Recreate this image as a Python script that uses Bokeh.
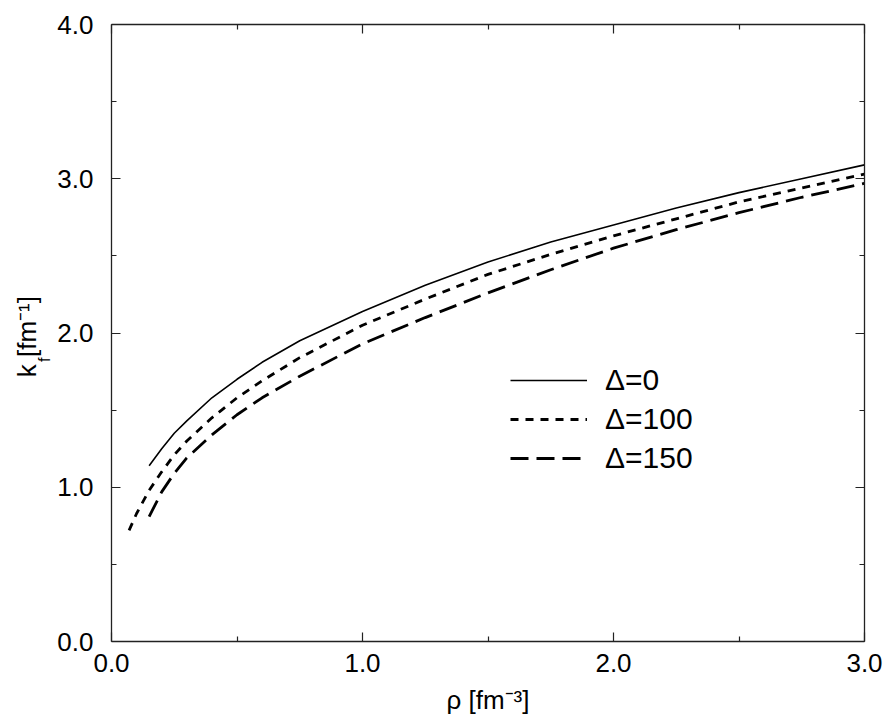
import math
from bokeh.plotting import figure
from bokeh.models import (Range1d, LinearAxis, FixedTicker, NumeralTickFormatter,
                          CustomJSTickFormatter, Legend, LegendItem, Label)
from bokeh.embed import file_html
from bokeh.resources import INLINE

# ---- data ----
rho_d0 = [0.15, 0.2, 0.25, 0.3, 0.4, 0.5, 0.6, 0.75, 1.0, 1.25, 1.5, 1.75, 2.0, 2.25, 2.5, 2.75, 3.0]
kf_d0 = [1.14, 1.25, 1.35, 1.43, 1.58, 1.70, 1.81, 1.95, 2.14, 2.31, 2.46, 2.59, 2.70, 2.81, 2.91, 3.00, 3.09]

rho_d100 = [0.07, 0.1, 0.15, 0.2, 0.25, 0.3, 0.4, 0.5, 0.6, 0.75, 1.0, 1.25, 1.5, 1.75, 2.0, 2.25, 2.5, 2.75, 3.0]
kf_d100 = [0.72, 0.83, 0.98, 1.10, 1.21, 1.30, 1.45, 1.58, 1.69, 1.84, 2.05, 2.22, 2.38, 2.51, 2.63, 2.74, 2.85, 2.94, 3.03]

rho_d150 = [0.15, 0.2, 0.25, 0.3, 0.4, 0.5, 0.6, 0.75, 1.0, 1.25, 1.5, 1.75, 2.0, 2.25, 2.5, 2.75, 3.0]
kf_d150 = [0.81, 0.97, 1.09, 1.19, 1.34, 1.47, 1.58, 1.72, 1.93, 2.10, 2.26, 2.41, 2.55, 2.67, 2.78, 2.88, 2.97]

series_labels = ["Δ=0", "Δ=100", "Δ=150"]
x_title = "ρ [fm⁻³]"
y_title = "k  [fm⁻¹]"
y_title_sub = "f"
x_major = [0, 1, 2, 3]
x_minor = [0.5, 1.5, 2.5]
y_major = [0, 1, 2, 3, 4]
y_minor = [0.5, 1.5, 2.5, 3.5]

FONT = "Liberation Sans"
AX = "#222222"

p = figure(width=887, height=718, output_backend="svg", toolbar_location=None,
           x_range=Range1d(0, 3), y_range=Range1d(0, 4),
           min_border_left=111, min_border_right=23, min_border_top=24, min_border_bottom=77,
           x_axis_type=None, y_axis_type=None)
p.outline_line_color = None
p.background_fill_color = "white"
p.border_fill_color = "white"


def style_axis(ax, major, minor, show_labels, standoff=0):
    ax.ticker = FixedTicker(ticks=major, minor_ticks=minor)
    ax.axis_line_color = AX
    ax.axis_line_width = 1.3
    ax.major_tick_line_color = AX
    ax.minor_tick_line_color = AX
    ax.major_tick_line_width = 1.2
    ax.minor_tick_line_width = 1.2
    ax.major_tick_in = 9
    ax.major_tick_out = 0
    ax.minor_tick_in = 5
    ax.minor_tick_out = 0
    if show_labels:
        ax.formatter = NumeralTickFormatter(format="0.0")
        ax.major_label_text_font = FONT
        ax.major_label_text_font_size = "26px"
        ax.major_label_text_color = "black"
        ax.major_label_standoff = standoff
        ax.axis_label_text_font = FONT
        ax.axis_label_text_font_size = "26px"
        ax.axis_label_text_font_style = "normal"
        ax.axis_label_text_color = "black"
    else:
        ax.formatter = CustomJSTickFormatter(code="return ''")
        ax.major_label_standoff = 0
        ax.major_label_text_font_size = "1px"


xb = LinearAxis(axis_label=x_title, axis_label_standoff=10)
style_axis(xb, x_major, x_minor, True, 12)
p.add_layout(xb, "below")
yl = LinearAxis(axis_label=y_title, axis_label_standoff=12)
style_axis(yl, y_major, y_minor, True, 18)
p.add_layout(yl, "left")
xt = LinearAxis()
style_axis(xt, x_major, x_minor, False)
p.add_layout(xt, "above")
yr = LinearAxis()
style_axis(yr, y_major, y_minor, False)
p.add_layout(yr, "right")

r0 = p.line(rho_d0, kf_d0, line_color="black", line_width=1.6)
r1 = p.line(rho_d100, kf_d100, line_color="black", line_width=2.8, line_dash="8 7")
r2 = p.line(rho_d150, kf_d150, line_color="black", line_width=2.8, line_dash="18 8")

legend = Legend(items=[LegendItem(label=series_labels[0], renderers=[r0]),
                       LegendItem(label=series_labels[1], renderers=[r1]),
                       LegendItem(label=series_labels[2], renderers=[r2])],
                location=(399, 165), orientation="vertical",
                glyph_width=77, glyph_height=36, label_height=36,
                label_standoff=18, spacing=3, padding=0, margin=0,
                border_line_color=None, background_fill_alpha=0,
                label_text_font=FONT, label_text_font_size="30px",
                label_text_color="black")
p.add_layout(legend)

# subscript "f" of the y title (placed in a side panel so it is not clipped to the frame)
sub = Label(x=0, y=2, x_offset=-67, y_offset=-29, text=y_title_sub,
            angle=math.pi / 2, text_align="left", text_baseline="alphabetic",
            text_font=FONT, text_font_size="16px", text_color="black")
p.add_layout(sub, "above")

open("out.html", "w").write(file_html(p, INLINE))
